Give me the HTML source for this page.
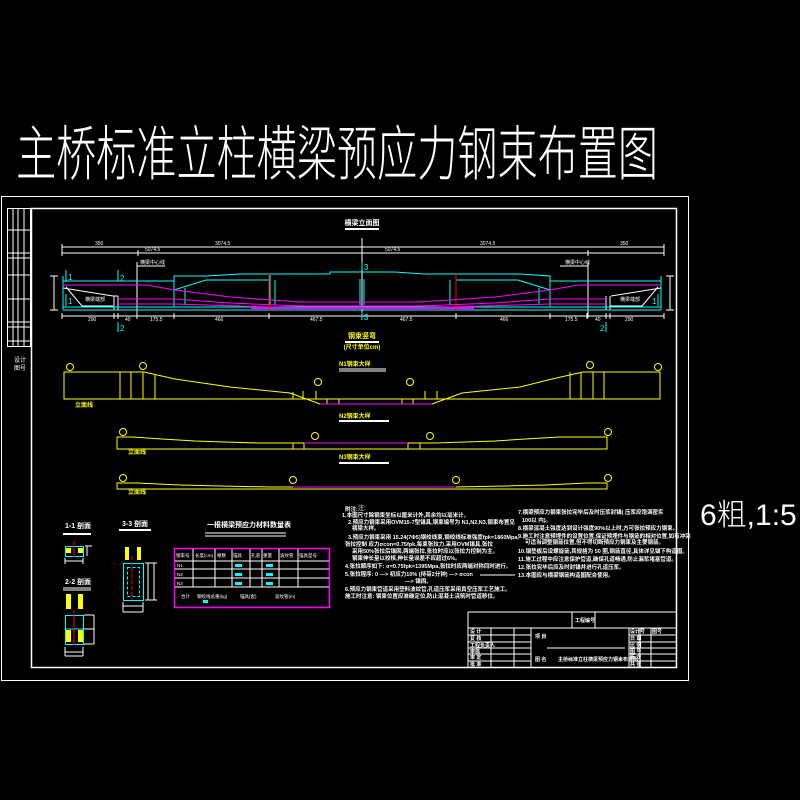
<!DOCTYPE html>
<html><head><meta charset="utf-8"><style>
html,body{margin:0;padding:0;background:#000;}
svg{display:block;}
text{font-family:"Liberation Sans","Noto Sans CJK SC",sans-serif;}
</style></head><body>
<svg width="800" height="800" viewBox="0 0 800 800" xmlns="http://www.w3.org/2000/svg">
<rect width="800" height="800" fill="#000"/>
<!-- big title -->
<text x="0" y="0" transform="translate(16,175) scale(1,1.3)" font-size="46" fill="#fff" font-weight="300" textLength="642" lengthAdjust="spacingAndGlyphs">主桥标准立柱横梁预应力钢束布置图</text>
<text x="700" y="525" font-size="30" fill="#fff" font-weight="300">6粗,1:5</text>

<g fill="none" stroke="#fff" stroke-width="1">
<!-- frames -->
<rect x="1.5" y="196.5" width="687" height="484"/>
<rect x="31.5" y="208.5" width="645" height="459" stroke-width="1.5"/>
<!-- left strip -->
<rect x="7.5" y="208.5" width="23" height="138"/>
<path d="M13 208V347M18 208V347M24 208V347M7 230H31M7 253H31M7 258H31M7 275H31M7 299H31M7 322H31M7 327H31M7 341H31"/>
</g>
<text x="14" y="362" font-size="6" fill="#fff">设计</text>
<text x="14" y="370" font-size="6" fill="#fff">图号</text>

<!-- ELEVATION -->
<text x="362" y="225" font-size="7" fill="#fff" text-anchor="middle" font-weight="bold">横梁立面图</text>
<rect x="345" y="228" width="34" height="2" fill="#fff"/>
<g stroke="#fff" stroke-width="1" fill="none">
<path d="M62 247H664M62 253H664M62 244V256M664 244V256M138 250V256M362 238V320M588 250V256"/>
<path d="M62 316H664M62 313V319M114 313V319M118 313V319M137 313V319M174 313V319M269 313V319M456 313V319M550 313V319M587 313V319M606 313V319M610 313V319M664 313V319"/>
<path d="M137 262V318M588 262V318M137 266H165M560 266H588"/>
<path d="M50 276H58M50 310H58M54 276V310M670 276V310M666 276H674M666 310H674"/>
<path d="M63 288L113 296M113 296H118M114 296V310M118 296V310M66 287L82 306H113"/>
<path d="M661 288L611 296M606 296V310M610 296V310M658 287L642 306H610"/>
</g>
<g fill="#fff" font-size="5">
<text x="95" y="245">350</text><text x="215" y="245">3074.5</text><text x="480" y="245">3074.5</text><text x="620" y="245">350</text>
<text x="145" y="251">5074.5</text><text x="385" y="251">5074.5</text>
<text x="85" y="301">横梁端部</text><text x="620" y="301">横梁端部</text>
<text x="88" y="321">290</text><text x="125" y="321">40</text><text x="150" y="321">175.5</text><text x="215" y="321">466</text><text x="310" y="321">467.5</text><text x="400" y="321">467.5</text><text x="500" y="321">466</text><text x="565" y="321">175.5</text><text x="595" y="321">40</text><text x="625" y="321">290</text>
<text x="140" y="264">横梁中心线</text><text x="565" y="264">横梁中心线</text>
</g>
<g stroke="#0ff" stroke-width="1" fill="none">
<path d="M63 281H174V276H206L240 274H330V272H395L424 274H520L550 276H550V281H661"/>
<path d="M63 310H661M63 307H661M63 276V310M661 276V310"/>
<path d="M174 276V307M550 276V307M185 288V305M539 288V305"/>
<path d="M174 290L206 280H270M456 280H518L550 290"/>
<path d="M270 275V305M275 280V305M360 279V305M364 279V305M450 280V305M456 275V305"/>
<path d="M66 270V282M66 294V306M118 270V281M118 322V332M362 262V270M362 312V320M658 294V306M606 322V332"/>
</g>
<g fill="#0ff" font-size="8"><text x="68" y="280">1</text><text x="68" y="304">1</text><text x="120" y="281">2</text><text x="120" y="331">2</text><text x="364" y="270">3</text><text x="364" y="320">3</text><text x="652" y="304">1</text><text x="600" y="331">2</text></g>
<g stroke="#f0f" stroke-width="1" fill="none">
<path d="M63 285H146L175 290L230 297L300 302H420L495 297L550 290L578 285H661"/>
<path d="M118 299H175L230 303L300 306H420L495 303L550 299H606"/>
<path d="M118 304H175L300 308H420L550 304H606"/>
</g>
<rect x="251" y="307" width="223" height="2" fill="#f0f"/>
<path d="M269 273V311M456 273V311" stroke="#f00" stroke-width="1"/>

<!-- Steel bend titles -->
<text x="362" y="338" font-size="7" fill="#ff0" text-anchor="middle" font-weight="bold">钢束竖弯</text>
<rect x="345" y="341" width="34" height="2" fill="#fff"/>
<text x="362" y="349" font-size="6" fill="#ff0" text-anchor="middle" font-weight="bold">(尺寸单位cm)</text>

<!-- D1 -->
<text x="339" y="366" font-size="6" fill="#ff0" font-weight="bold">N1钢束大样</text>
<path d="M339 369H386M339 371H386" stroke="#fff"/>
<g stroke="#ff0" stroke-width="1" fill="none">
<path d="M64 372H144L175 379L230 387L290 393L320 404H432L462 393L520 387L552 379L583 372H660V399H64Z"/>
<path d="M120 372V399M131 372V399M143 372V399M155 375V399M570 372V399M581 372V399M593 372V399M604 372V399"/>
<path d="M293 392V399M303 391V399M316 391V399M327 404V399M339 404V399M402 404V399M413 404V399M425 391V399M437 391V399"/>
<circle cx="70" cy="367" r="3.5"/><circle cx="143" cy="366" r="3.5"/><circle cx="318" cy="382" r="3.5"/><circle cx="410" cy="382" r="3.5"/><circle cx="590" cy="365" r="3.5"/><circle cx="658" cy="367" r="3.5"/>
</g>
<path d="M320 404H432" stroke="#f0f"/>
<text x="75" y="407" font-size="6" fill="#ff0" font-weight="bold">立面线</text>
<!-- D2 -->
<text x="339" y="418" font-size="6" fill="#ff0" font-weight="bold">N2钢束大样</text>
<rect x="339" y="420" width="50" height="2" fill="#fff"/>
<g stroke="#ff0" stroke-width="1" fill="none">
<path d="M117 437H132L162 439L195 441L225 442L257 443L287 443H405L435 443L465 442L495 441L525 439L560 437H607V449H117Z"/>
<path d="M293 443V449M304 443V449M408 443V449M420 443V449"/>
<circle cx="123" cy="432" r="3.5"/><circle cx="315" cy="436" r="3.5"/><circle cx="430" cy="436" r="3.5"/><circle cx="608" cy="432" r="3.5"/>
</g>
<path d="M304 443H408" stroke="#f0f"/>
<text x="128" y="454" font-size="6" fill="#ff0" font-weight="bold">立面线</text>
<!-- D3 -->
<text x="339" y="459" font-size="6" fill="#ff0" font-weight="bold">N3钢束大样</text>
<rect x="339" y="462" width="50" height="2" fill="#fff"/>
<g stroke="#ff0" stroke-width="1" fill="none">
<path d="M117 483H137L180 485L220 486L270 487H454L505 486L545 485L587 483H607V489H117Z"/>
<circle cx="123" cy="478" r="3.5"/><circle cx="293" cy="480" r="3.5"/><circle cx="456" cy="480" r="3.5"/><circle cx="608" cy="478" r="3.5"/>
</g>
<path d="M293 487H456" stroke="#f0f"/>
<text x="128" y="494" font-size="6" fill="#ff0" font-weight="bold">立面线</text>
<text x="358" y="510" font-size="6" fill="#fff">注:</text>

<!-- Sections -->
<text x="65" y="528" font-size="7" fill="#fff" font-weight="bold">1-1 剖面</text>
<rect x="63" y="533" width="28" height="2" fill="#fff"/>
<rect x="65.5" y="546.5" width="18" height="10" fill="none" stroke="#0ff"/>
<rect x="66" y="548" width="5" height="5" fill="#ff0"/><rect x="78" y="548" width="5" height="5" fill="#ff0"/>
<path d="M74 541V557" stroke="#f00"/>
<path d="M65 558V564M83 558V564M65 561H83M87 546V556M85 546H92" stroke="#fff"/>
<text x="65" y="584" font-size="7" fill="#fff" font-weight="bold">2-2 剖面</text>
<path d="M63 588H91M63 590H91" stroke="#fff"/>
<rect x="66" y="594" width="5" height="15" fill="#ff0"/><rect x="78" y="594" width="5" height="15" fill="#ff0"/>
<rect x="65.5" y="615.5" width="18" height="29" fill="none" stroke="#0ff"/>
<path d="M65 629H83" stroke="#0ff"/>
<rect x="66" y="630" width="5" height="12" fill="#ff0"/><rect x="78" y="630" width="5" height="12" fill="#ff0"/>
<path d="M74 610V645" stroke="#f00"/>
<path d="M65 647V656M83 647V656M65 652H83M65 656H83M94 615V644M84 615H94M84 629H94M84 644H94" stroke="#fff"/>
<text x="122" y="526" font-size="7" fill="#fff" font-weight="bold">3-3 剖面</text>
<rect x="119" y="529" width="32" height="2" fill="#fff"/>
<rect x="125" y="547" width="4" height="13" fill="#ff0"/><rect x="137" y="547" width="4" height="13" fill="#ff0"/>
<rect x="123.5" y="563.5" width="20" height="37" fill="none" stroke="#0ff"/>
<rect x="127.5" y="567.5" width="12" height="29" fill="none" stroke="#0ff" stroke-dasharray="3 2"/>
<path d="M132 556V600" stroke="#f00" stroke-dasharray="4 2"/>
<path d="M123 602V612M143 602V612M123 606H143M123 612H143M148 563V600M154 563V600M145 563H157M145 600H157" stroke="#fff"/>

<!-- table -->
<text x="207" y="527" font-size="7" fill="#fff" font-weight="bold">一根横梁预应力材料数量表</text>
<path d="M205 533H286M205 536H286" stroke="#fff"/>
<rect x="174.5" y="548.5" width="155" height="59" fill="none" stroke="#f0f" stroke-width="1.5"/>
<g stroke="#fff"><path d="M175 561H329M175 569H329M175 578H329M175 587H329M193 549V587M215 549V587M232 549V587M250 549V587M262 549V587M279 549V587M298 549V587"/></g>
<g font-size="4.5" fill="#fff"><text x="176" y="557">钢束号</text><text x="195" y="557">长度(cm)</text><text x="217" y="557">根数</text><text x="233" y="557">锚具</text><text x="251" y="557">孔道</text><text x="263" y="557">重量</text><text x="280" y="557">波纹管</text><text x="299" y="557">锚具型号</text>
<text x="177" y="567">N1</text><text x="177" y="576">N2</text><text x="177" y="585">N3</text>
<text x="181" y="598">合计</text><text x="197" y="598">钢绞线总重(kg)</text><text x="240" y="598">锚具(套)</text><text x="275" y="598">波纹管(m)</text></g>
<g fill="#0ff"><rect x="235" y="564" width="7" height="3"/><rect x="266" y="564" width="7" height="3"/><rect x="235" y="573" width="7" height="3"/><rect x="266" y="573" width="7" height="3"/><rect x="235" y="582" width="7" height="3"/><rect x="266" y="582" width="7" height="3"/><rect x="203" y="600" width="5" height="3"/></g>

<!-- notes -->
<g font-size="5.5" fill="#fff" font-weight="bold">
<text x="345" y="511">附注:</text>
<text x="342" y="517">1.本图尺寸除钢束坐标以厘米计外,其余均以毫米计。</text>
<text x="348" y="524">2.预应力钢束采用OVM15-7型锚具,钢束编号为 N1,N2,N3,钢束布置见</text>
<text x="352" y="530">横梁大样。</text>
<text x="348" y="539">3.预应力钢束采用 15.24(7Φ5)钢绞线束,钢绞线标准强度fpk=1860Mpa,</text>
<text x="345" y="546">张拉控制    应力σcon=0.75fpk,每束张拉力,采用OVM锚具,张拉</text>
<text x="352" y="553">采用50%张拉后锚固,两端张拉,张拉时应以张拉力控制为主。</text>
<text x="352" y="560">钢束伸长量以校核,伸长量误差不应超过6%。</text>
<text x="345" y="568">4.张拉顺序如下:  σ=0.75fpk=1395Mpa,张拉时应两端对称同时进行。</text>
<text x="345" y="576">5.张拉程序:   0 —&gt; 初应力10%   (持荷2分钟)  —&gt; σcon</text>
<text x="405" y="583">—&gt; 锚固。</text>
<text x="345" y="591">6.预应力钢束管道采用塑料波纹管,孔道压浆采用真空压浆工艺施工。</text>
<text x="345" y="598">施工时注意:        钢束位置应准确定位,防止混凝土浇筑时管道移位。</text>
<text x="518" y="514">7.横梁预应力钢束张拉完毕后及时压浆封锚(  压浆应饱满密实</text>
<text x="522" y="522">100以  内)。</text>
<text x="518" y="530">8.横梁混凝土强度达到设计强度90%以上时,方可张拉预应力钢束。</text>
<text x="518" y="538">9.施工时注意预埋件的设置位置,保证预埋件与钢筋的相对位置,如有冲突</text>
<text x="525" y="544">可适当调整钢筋位置,但不得切断预应力钢束及主要钢筋。</text>
<text x="518" y="553">10.锚垫板后设螺旋筋,其规格为  50  圈,钢筋直径,具体详见锚下构造图。</text>
<text x="518" y="561">11.施工过程中应注意保护管道,确保孔道畅通,防止漏浆堵塞管道。</text>
<text x="518" y="569">12.张拉完毕后应及时封锚并进行孔道压浆。</text>
<text x="518" y="577">13.本图应与横梁钢筋构造图配合使用。</text>
</g>
<path d="M480 575H515" stroke="#fff"/>

<!-- title block -->
<g stroke="#fff" stroke-width="1" fill="none">
<path d="M468 612H676M468 612V668M468 628H676M572 612V628M595 612V628"/>
<path d="M468 635H531M468 642H531M468 648H531M468 654H531M468 661H531M491 628V668M514 628V668M531 628V668"/>
<path d="M629 628V668M651 628V668M629 635H676M629 642H676M629 648H676M629 654H676M629 661H676M640 628V668"/>
<path d="M547 648H625"/>
</g>
<g font-size="5" fill="#fff" font-weight="bold">
<text x="575" y="622">工程编号</text>
<text x="470" y="633">设 计</text><text x="470" y="640">复 核</text><text x="470" y="647">工程负责人</text><text x="470" y="653">审核</text><text x="470" y="659">审 定</text><text x="470" y="666">批 准</text>
<text x="535" y="638">项 目</text><text x="535" y="661">图 名</text>
<text x="558" y="661">主桥标准立柱横梁预应力钢束布置图</text>
<text x="630" y="633">设计号</text><text x="652" y="633">图号</text><text x="630" y="640">日 期</text><text x="630" y="647">比 例</text><text x="630" y="653">图 号</text><text x="630" y="659">版 次</text><text x="630" y="666">共 张</text>
</g>
</svg>
</body></html>
